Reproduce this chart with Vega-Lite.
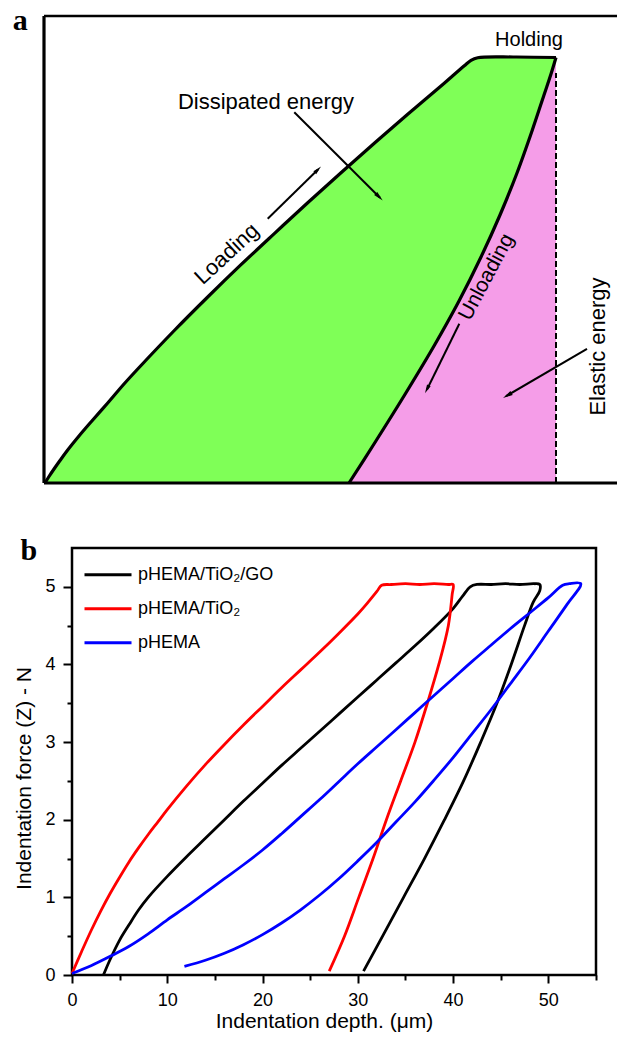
{
  "$schema": "https://vega.github.io/schema/vega-lite/v6.json",
  "padding": {"left": 12, "top": 5, "right": 0, "bottom": 0},
  "config": {"font": "Liberation Sans", "axis": {"titleFontWeight": "normal", "titleColor": "black", "labelColor": "black"}},
  "bounds": "flush",
  "spacing": 65,
  "datasets": {
    "aLoad": [
      {"x": 1, "y": 0}, {"x": 5, "y": 6.5}, {"x": 10, "y": 14}, {"x": 16, "y": 22.5}, {"x": 23.7, "y": 33},
      {"x": 35, "y": 47}, {"x": 47, "y": 61}, {"x": 63.7, "y": 80}, {"x": 80, "y": 99},
      {"x": 97, "y": 117.5}, {"x": 130.3, "y": 152.5}, {"x": 163.7, "y": 186}, {"x": 197, "y": 218.3},
      {"x": 230.3, "y": 249.4}, {"x": 263.7, "y": 280.2}, {"x": 297, "y": 310.2}, {"x": 330.3, "y": 339.7},
      {"x": 363.7, "y": 368.7}, {"x": 397, "y": 397}, {"x": 420.3, "y": 417.3}, {"x": 427, "y": 422.7},
      {"x": 433.7, "y": 425.3}, {"x": 470, "y": 426}, {"x": 512, "y": 425.5}
    ],
    "aUnload": [
      {"x": 305, "y": 0}, {"x": 330, "y": 39}, {"x": 360, "y": 87}, {"x": 390, "y": 137}, {"x": 415, "y": 182},
      {"x": 437, "y": 226}, {"x": 456, "y": 268}, {"x": 473, "y": 310}, {"x": 488, "y": 352},
      {"x": 500, "y": 388}, {"x": 507, "y": 409}, {"x": 512, "y": 425.5}
    ],
    "curves": [
      {"s": "pHEMA/TiO₂/GO", "i": 0, "x": 3.3, "y": 0}, {"s": "pHEMA/TiO₂/GO", "i": 1, "x": 4, "y": 0.2},
      {"s": "pHEMA/TiO₂/GO", "i": 2, "x": 5, "y": 0.45}, {"s": "pHEMA/TiO₂/GO", "i": 3, "x": 6, "y": 0.65},
      {"s": "pHEMA/TiO₂/GO", "i": 4, "x": 7, "y": 0.84}, {"s": "pHEMA/TiO₂/GO", "i": 5, "x": 8, "y": 1.0},
      {"s": "pHEMA/TiO₂/GO", "i": 6, "x": 10, "y": 1.27}, {"s": "pHEMA/TiO₂/GO", "i": 7, "x": 12, "y": 1.52},
      {"s": "pHEMA/TiO₂/GO", "i": 8, "x": 14, "y": 1.76}, {"s": "pHEMA/TiO₂/GO", "i": 9, "x": 16, "y": 2.0},
      {"s": "pHEMA/TiO₂/GO", "i": 10, "x": 18, "y": 2.24}, {"s": "pHEMA/TiO₂/GO", "i": 11, "x": 20, "y": 2.47},
      {"s": "pHEMA/TiO₂/GO", "i": 12, "x": 22, "y": 2.7}, {"s": "pHEMA/TiO₂/GO", "i": 13, "x": 24, "y": 2.92},
      {"s": "pHEMA/TiO₂/GO", "i": 14, "x": 26, "y": 3.14}, {"s": "pHEMA/TiO₂/GO", "i": 15, "x": 28, "y": 3.36},
      {"s": "pHEMA/TiO₂/GO", "i": 16, "x": 30, "y": 3.58}, {"s": "pHEMA/TiO₂/GO", "i": 17, "x": 32, "y": 3.8},
      {"s": "pHEMA/TiO₂/GO", "i": 18, "x": 34, "y": 4.02}, {"s": "pHEMA/TiO₂/GO", "i": 19, "x": 36, "y": 4.24},
      {"s": "pHEMA/TiO₂/GO", "i": 20, "x": 38, "y": 4.47}, {"s": "pHEMA/TiO₂/GO", "i": 21, "x": 40, "y": 4.72},
      {"s": "pHEMA/TiO₂/GO", "i": 22, "x": 41, "y": 4.88}, {"s": "pHEMA/TiO₂/GO", "i": 23, "x": 41.8, "y": 5.0},
      {"s": "pHEMA/TiO₂/GO", "i": 24, "x": 42.5, "y": 5.03}, {"s": "pHEMA/TiO₂/GO", "i": 25, "x": 44, "y": 5.03},
      {"s": "pHEMA/TiO₂/GO", "i": 26, "x": 45.5, "y": 5.04}, {"s": "pHEMA/TiO₂/GO", "i": 27, "x": 47, "y": 5.03},
      {"s": "pHEMA/TiO₂/GO", "i": 28, "x": 48.5, "y": 5.04}, {"s": "pHEMA/TiO₂/GO", "i": 29, "x": 49.1, "y": 5.03},
      {"s": "pHEMA/TiO₂/GO", "i": 30, "x": 49.1, "y": 4.95}, {"s": "pHEMA/TiO₂/GO", "i": 31, "x": 48.4, "y": 4.8},
      {"s": "pHEMA/TiO₂/GO", "i": 32, "x": 47.5, "y": 4.5}, {"s": "pHEMA/TiO₂/GO", "i": 33, "x": 46.1, "y": 4.0},
      {"s": "pHEMA/TiO₂/GO", "i": 34, "x": 44.6, "y": 3.5}, {"s": "pHEMA/TiO₂/GO", "i": 35, "x": 42.9, "y": 3.0},
      {"s": "pHEMA/TiO₂/GO", "i": 36, "x": 41.1, "y": 2.5}, {"s": "pHEMA/TiO₂/GO", "i": 37, "x": 39.1, "y": 2.0},
      {"s": "pHEMA/TiO₂/GO", "i": 38, "x": 37.0, "y": 1.5}, {"s": "pHEMA/TiO₂/GO", "i": 39, "x": 34.8, "y": 1.0},
      {"s": "pHEMA/TiO₂/GO", "i": 40, "x": 32.6, "y": 0.5}, {"s": "pHEMA/TiO₂/GO", "i": 41, "x": 30.6, "y": 0.05},

      {"s": "pHEMA/TiO₂", "i": 0, "x": 0, "y": 0.02}, {"s": "pHEMA/TiO₂", "i": 1, "x": 1, "y": 0.3},
      {"s": "pHEMA/TiO₂", "i": 2, "x": 2, "y": 0.57}, {"s": "pHEMA/TiO₂", "i": 3, "x": 3, "y": 0.82},
      {"s": "pHEMA/TiO₂", "i": 4, "x": 4, "y": 1.05}, {"s": "pHEMA/TiO₂", "i": 5, "x": 5, "y": 1.26},
      {"s": "pHEMA/TiO₂", "i": 6, "x": 6, "y": 1.46}, {"s": "pHEMA/TiO₂", "i": 7, "x": 7, "y": 1.64},
      {"s": "pHEMA/TiO₂", "i": 8, "x": 8, "y": 1.81}, {"s": "pHEMA/TiO₂", "i": 9, "x": 9, "y": 1.97},
      {"s": "pHEMA/TiO₂", "i": 10, "x": 10, "y": 2.13}, {"s": "pHEMA/TiO₂", "i": 11, "x": 12, "y": 2.43},
      {"s": "pHEMA/TiO₂", "i": 12, "x": 14, "y": 2.71}, {"s": "pHEMA/TiO₂", "i": 13, "x": 16, "y": 2.97},
      {"s": "pHEMA/TiO₂", "i": 14, "x": 18, "y": 3.22}, {"s": "pHEMA/TiO₂", "i": 15, "x": 20, "y": 3.46},
      {"s": "pHEMA/TiO₂", "i": 16, "x": 22, "y": 3.7}, {"s": "pHEMA/TiO₂", "i": 17, "x": 24, "y": 3.93},
      {"s": "pHEMA/TiO₂", "i": 18, "x": 26, "y": 4.16}, {"s": "pHEMA/TiO₂", "i": 19, "x": 28, "y": 4.4},
      {"s": "pHEMA/TiO₂", "i": 20, "x": 30, "y": 4.65}, {"s": "pHEMA/TiO₂", "i": 21, "x": 31, "y": 4.79},
      {"s": "pHEMA/TiO₂", "i": 22, "x": 32, "y": 4.94}, {"s": "pHEMA/TiO₂", "i": 23, "x": 32.5, "y": 5.02},
      {"s": "pHEMA/TiO₂", "i": 24, "x": 33.5, "y": 5.03}, {"s": "pHEMA/TiO₂", "i": 25, "x": 35, "y": 5.04},
      {"s": "pHEMA/TiO₂", "i": 26, "x": 36.5, "y": 5.03}, {"s": "pHEMA/TiO₂", "i": 27, "x": 38, "y": 5.04},
      {"s": "pHEMA/TiO₂", "i": 28, "x": 39.5, "y": 5.03}, {"s": "pHEMA/TiO₂", "i": 29, "x": 40, "y": 5.03},
      {"s": "pHEMA/TiO₂", "i": 30, "x": 39.9, "y": 4.9}, {"s": "pHEMA/TiO₂", "i": 31, "x": 39.5, "y": 4.5},
      {"s": "pHEMA/TiO₂", "i": 32, "x": 38.5, "y": 4.0}, {"s": "pHEMA/TiO₂", "i": 33, "x": 37.3, "y": 3.5},
      {"s": "pHEMA/TiO₂", "i": 34, "x": 36.0, "y": 3.0}, {"s": "pHEMA/TiO₂", "i": 35, "x": 34.5, "y": 2.5},
      {"s": "pHEMA/TiO₂", "i": 36, "x": 33.0, "y": 2.0}, {"s": "pHEMA/TiO₂", "i": 37, "x": 31.6, "y": 1.5},
      {"s": "pHEMA/TiO₂", "i": 38, "x": 30.1, "y": 1.0}, {"s": "pHEMA/TiO₂", "i": 39, "x": 28.6, "y": 0.5},
      {"s": "pHEMA/TiO₂", "i": 40, "x": 27.0, "y": 0.05},

      {"s": "pHEMA", "i": 0, "x": 0, "y": 0.02}, {"s": "pHEMA", "i": 1, "x": 2, "y": 0.12},
      {"s": "pHEMA", "i": 2, "x": 4, "y": 0.24}, {"s": "pHEMA", "i": 3, "x": 6, "y": 0.37},
      {"s": "pHEMA", "i": 4, "x": 8, "y": 0.53}, {"s": "pHEMA", "i": 5, "x": 10, "y": 0.71},
      {"s": "pHEMA", "i": 6, "x": 12, "y": 0.88}, {"s": "pHEMA", "i": 7, "x": 14, "y": 1.06},
      {"s": "pHEMA", "i": 8, "x": 16, "y": 1.24}, {"s": "pHEMA", "i": 9, "x": 18, "y": 1.42},
      {"s": "pHEMA", "i": 10, "x": 20, "y": 1.61}, {"s": "pHEMA", "i": 11, "x": 22, "y": 1.82},
      {"s": "pHEMA", "i": 12, "x": 24, "y": 2.04}, {"s": "pHEMA", "i": 13, "x": 26, "y": 2.26},
      {"s": "pHEMA", "i": 14, "x": 28, "y": 2.49}, {"s": "pHEMA", "i": 15, "x": 30, "y": 2.72},
      {"s": "pHEMA", "i": 16, "x": 32, "y": 2.94}, {"s": "pHEMA", "i": 17, "x": 34, "y": 3.16},
      {"s": "pHEMA", "i": 18, "x": 36, "y": 3.38}, {"s": "pHEMA", "i": 19, "x": 38, "y": 3.6},
      {"s": "pHEMA", "i": 20, "x": 40, "y": 3.82}, {"s": "pHEMA", "i": 21, "x": 42, "y": 4.04},
      {"s": "pHEMA", "i": 22, "x": 44, "y": 4.25}, {"s": "pHEMA", "i": 23, "x": 46, "y": 4.46},
      {"s": "pHEMA", "i": 24, "x": 48, "y": 4.66}, {"s": "pHEMA", "i": 25, "x": 50, "y": 4.86},
      {"s": "pHEMA", "i": 26, "x": 51.5, "y": 5.02}, {"s": "pHEMA", "i": 27, "x": 52.2, "y": 5.04},
      {"s": "pHEMA", "i": 28, "x": 53.4, "y": 5.04}, {"s": "pHEMA", "i": 29, "x": 52, "y": 4.78},
      {"s": "pHEMA", "i": 30, "x": 50, "y": 4.43}, {"s": "pHEMA", "i": 31, "x": 48, "y": 4.08},
      {"s": "pHEMA", "i": 32, "x": 46, "y": 3.75}, {"s": "pHEMA", "i": 33, "x": 44, "y": 3.42},
      {"s": "pHEMA", "i": 34, "x": 42, "y": 3.11}, {"s": "pHEMA", "i": 35, "x": 40, "y": 2.8},
      {"s": "pHEMA", "i": 36, "x": 38, "y": 2.51}, {"s": "pHEMA", "i": 37, "x": 36, "y": 2.23},
      {"s": "pHEMA", "i": 38, "x": 34, "y": 1.97}, {"s": "pHEMA", "i": 39, "x": 32, "y": 1.71},
      {"s": "pHEMA", "i": 40, "x": 30, "y": 1.47}, {"s": "pHEMA", "i": 41, "x": 28, "y": 1.24},
      {"s": "pHEMA", "i": 42, "x": 26, "y": 1.03}, {"s": "pHEMA", "i": 43, "x": 24, "y": 0.84},
      {"s": "pHEMA", "i": 44, "x": 22, "y": 0.67}, {"s": "pHEMA", "i": 45, "x": 20, "y": 0.52},
      {"s": "pHEMA", "i": 46, "x": 18, "y": 0.39}, {"s": "pHEMA", "i": 47, "x": 16, "y": 0.28},
      {"s": "pHEMA", "i": 48, "x": 14, "y": 0.19}, {"s": "pHEMA", "i": 49, "x": 11.8, "y": 0.11}
    ]
  },
  "vconcat": [
    {
      "width": 546,
      "height": 467,
      "view": {"stroke": null},
      "layer": [
        {
          "data": {"name": "aLoad"},
          "mark": {"type": "area", "color": "#7FFF57", "opacity": 1, "interpolate": "catmull-rom"},
          "encoding": {
            "x": {"field": "x", "type": "quantitative", "scale": {"domain": [28, 574], "nice": false, "zero": false},
                  "axis": {"title": "Indentation depth. (μm)", "domain": false, "ticks": false, "labels": false, "grid": false,
                           "titleFontSize": 22, "titleX": 286, "titleY": 31.5, "titleBaseline": "alphabetic", "titleAlign": "center", "titleAnchor": null}},
            "y": {"field": "y", "type": "quantitative", "scale": {"domain": [0, 467], "nice": false, "zero": false},
                  "axis": {"title": "Indentation force (Z) - N", "domain": false, "ticks": false, "labels": false, "grid": false,
                           "titleFontSize": 22, "titleX": -41, "titleY": 234.5, "titleAngle": -90, "titleBaseline": "alphabetic", "titleAlign": "center", "titleAnchor": null}},
            "y2": {"datum": 0}
          }
        },
        {
          "data": {"name": "aUnload"},
          "mark": {"type": "area", "color": "#F59DE8", "opacity": 1, "interpolate": "catmull-rom"},
          "encoding": {
            "x": {"field": "x", "type": "quantitative", "axis": null},
            "y": {"field": "y", "type": "quantitative", "axis": null},
            "y2": {"datum": 0}
          }
        },
        {
          "data": {"values": [{"x": 512, "y": 0, "y2": 410}]},
          "mark": {"type": "rule", "color": "black", "strokeWidth": 2, "strokeDash": [6, 3]},
          "encoding": {
            "x": {"field": "x", "type": "quantitative", "axis": null},
            "y": {"field": "y", "type": "quantitative", "axis": null},
            "y2": {"field": "y2"}
          }
        },
        {
          "data": {"name": "aLoad"},
          "mark": {"type": "line", "color": "black", "strokeWidth": 3.2, "strokeJoin": "round", "interpolate": "catmull-rom"},
          "encoding": {
            "x": {"field": "x", "type": "quantitative", "axis": null},
            "y": {"field": "y", "type": "quantitative", "axis": null}
          }
        },
        {
          "data": {"name": "aUnload"},
          "mark": {"type": "line", "color": "black", "strokeWidth": 3.2, "strokeJoin": "round", "interpolate": "catmull-rom"},
          "encoding": {
            "x": {"field": "x", "type": "quantitative", "axis": null},
            "y": {"field": "y", "type": "quantitative", "axis": null}
          }
        },
        {
          "data": {"values": [{"x": 0, "y": 0, "x2": 0, "y2": 467}, {"x": 0, "y": 0, "x2": 574, "y2": 0}]},
          "mark": {"type": "rule", "color": "black", "strokeWidth": 3.2},
          "encoding": {
            "x": {"field": "x", "type": "quantitative", "axis": null},
            "y": {"field": "y", "type": "quantitative", "axis": null},
            "x2": {"field": "x2"},
            "y2": {"field": "y2"}
          }
        },
        {
          "data": {"values": [{"x": 0, "y": 467, "x2": 574, "y2": 467}]},
          "mark": {"type": "rule", "color": "black", "strokeWidth": 2.3},
          "encoding": {
            "x": {"field": "x", "type": "quantitative", "axis": null},
            "y": {"field": "y", "type": "quantitative", "axis": null},
            "x2": {"field": "x2"},
            "y2": {"field": "y2"}
          }
        },
        {
          "data": {"values": [
            {"x": 250.3, "y": 370.8, "x2": 336, "y2": 285.2},
            {"x": 223.7, "y": 264.2, "x2": 274, "y2": 313.5},
            {"x": 415.3, "y": 159.2, "x2": 383, "y2": 93.5},
            {"x": 543, "y": 134.2, "x2": 462, "y2": 86.8}
          ]},
          "mark": {"type": "rule", "color": "black", "strokeWidth": 2},
          "encoding": {
            "x": {"field": "x", "type": "quantitative", "axis": null},
            "y": {"field": "y", "type": "quantitative", "axis": null},
            "x2": {"field": "x2"},
            "y2": {"field": "y2"}
          }
        },
        {
          "data": {"values": [{"x": 338.7, "y": 282.5}]},
          "mark": {"type": "point", "shape": "M0,0L0.5,2.2L-0.5,2.2Z", "size": 81, "angle": 135, "filled": true, "color": "black", "opacity": 1},
          "encoding": {"x": {"field": "x", "type": "quantitative", "axis": null}, "y": {"field": "y", "type": "quantitative", "axis": null}}
        },
        {
          "data": {"values": [{"x": 277, "y": 316.5}]},
          "mark": {"type": "point", "shape": "M0,0L0.5,2.2L-0.5,2.2Z", "size": 64, "angle": 45, "filled": true, "color": "black", "opacity": 1},
          "encoding": {"x": {"field": "x", "type": "quantitative", "axis": null}, "y": {"field": "y", "type": "quantitative", "axis": null}}
        },
        {
          "data": {"values": [{"x": 381, "y": 89.8}]},
          "mark": {"type": "point", "shape": "M0,0L0.5,2.2L-0.5,2.2Z", "size": 64, "angle": 206, "filled": true, "color": "black", "opacity": 1},
          "encoding": {"x": {"field": "x", "type": "quantitative", "axis": null}, "y": {"field": "y", "type": "quantitative", "axis": null}}
        },
        {
          "data": {"values": [{"x": 459, "y": 85}]},
          "mark": {"type": "point", "shape": "M0,0L0.5,2.2L-0.5,2.2Z", "size": 81, "angle": 240, "filled": true, "color": "black", "opacity": 1},
          "encoding": {"x": {"field": "x", "type": "quantitative", "axis": null}, "y": {"field": "y", "type": "quantitative", "axis": null}}
        },
        {
          "data": {"values": [{"x": 485, "y": 437.5, "t": "Holding"}]},
          "mark": {"type": "text", "fontSize": 20, "align": "center", "baseline": "alphabetic", "color": "black"},
          "encoding": {"x": {"field": "x", "type": "quantitative", "axis": null}, "y": {"field": "y", "type": "quantitative", "axis": null}, "text": {"field": "t"}}
        },
        {
          "data": {"values": [{"x": 222, "y": 374.2, "t": "Dissipated energy"}]},
          "mark": {"type": "text", "fontSize": 22, "align": "center", "baseline": "alphabetic", "color": "black"},
          "encoding": {"x": {"field": "x", "type": "quantitative", "axis": null}, "y": {"field": "y", "type": "quantitative", "axis": null}, "text": {"field": "t"}}
        },
        {
          "data": {"values": [{"x": 182.7, "y": 229.2, "t": "Loading"}]},
          "mark": {"type": "text", "fontSize": 22, "align": "center", "baseline": "middle", "angle": -43, "color": "black"},
          "encoding": {"x": {"field": "x", "type": "quantitative", "axis": null}, "y": {"field": "y", "type": "quantitative", "axis": null}, "text": {"field": "t"}}
        },
        {
          "data": {"values": [{"x": 442.7, "y": 205.8, "t": "Unloading"}]},
          "mark": {"type": "text", "fontSize": 21, "align": "center", "baseline": "middle", "angle": -62, "color": "black"},
          "encoding": {"x": {"field": "x", "type": "quantitative", "axis": null}, "y": {"field": "y", "type": "quantitative", "axis": null}, "text": {"field": "t"}}
        },
        {
          "data": {"values": [{"x": 561, "y": 136.5, "t": "Elastic energy"}]},
          "mark": {"type": "text", "fontSize": 22, "align": "center", "baseline": "alphabetic", "angle": -90, "color": "black"},
          "encoding": {"x": {"field": "x", "type": "quantitative", "axis": null}, "y": {"field": "y", "type": "quantitative", "axis": null}, "text": {"field": "t"}}
        },
        {
          "data": {"values": [{"x": -31.3, "y": 453.2, "t": "a"}]},
          "mark": {"type": "text", "fontSize": 30, "font": "Liberation Serif", "fontWeight": "bold", "align": "left", "baseline": "alphabetic", "color": "black"},
          "encoding": {"x": {"field": "x", "type": "quantitative", "axis": null}, "y": {"field": "y", "type": "quantitative", "axis": null}, "text": {"field": "t"}}
        }
      ]
    },
    {
      "width": 524,
      "height": 427,
      "view": {"stroke": "black", "strokeWidth": 2.5},
      "resolve": {"axis": {"x": "independent", "y": "independent"}},
      "layer": [
        {
          "data": {"name": "curves"},
          "mark": {"type": "line", "strokeWidth": 2.8, "strokeJoin": "round", "interpolate": "catmull-rom"},
          "encoding": {
            "x": {"field": "x", "type": "quantitative", "scale": {"domain": [0, 55], "nice": false, "zero": false},
                  "axis": {"orient": "bottom", "values": [0, 10, 20, 30, 40, 50], "title": "Indentation depth. (μm)", "titleFontSize": 21,
                           "titleX": 252, "titleY": 52, "titleBaseline": "alphabetic", "titleAlign": "center", "titleAnchor": null,
                           "labelFontSize": 18, "labelPadding": 8, "labelFlush": false, "labelOverlap": false,
                           "tickSize": 8, "tickWidth": 2, "tickColor": "black", "domain": false, "grid": false}},
            "y": {"field": "y", "type": "quantitative", "scale": {"domain": [0, 5.5], "nice": false, "zero": false},
                  "axis": {"orient": "left", "values": [0, 1, 2, 3, 4, 5], "title": "Indentation force (Z) - N", "titleFontSize": 21,
                           "titleX": -41.5, "titleY": 230, "titleAngle": -90, "titleBaseline": "alphabetic", "titleAlign": "center", "titleAnchor": null,
                           "labelFontSize": 18, "labelPadding": 8, "labelFlush": false, "labelOverlap": false,
                           "tickSize": 9, "tickWidth": 2, "tickColor": "black", "domain": false, "grid": false}},
            "color": {"field": "s", "type": "nominal",
                      "scale": {"domain": ["pHEMA/TiO₂/GO", "pHEMA/TiO₂", "pHEMA"], "range": ["#000000", "#FF0000", "#0000FF"]},
                      "legend": {"orient": "none", "legendX": 11, "legendY": 533.7, "title": null, "symbolType": "stroke", "symbolSize": 2209,
                                 "symbolStrokeWidth": 3, "labelFontSize": 18, "labelOffset": 5, "rowPadding": -15.2, "labelColor": "black", "padding": 0}},
            "order": {"field": "i", "type": "quantitative"}
          }
        },
        {
          "data": {"values": [{"x": -5.4, "y": 5.344, "t": "b"}]},
          "mark": {"type": "text", "fontSize": 30, "font": "Liberation Serif", "fontWeight": "bold", "align": "left", "baseline": "alphabetic", "color": "black"},
          "encoding": {
            "x": {"field": "x", "type": "quantitative",
                  "axis": {"orient": "bottom", "values": [5, 15, 25, 35, 45, 55], "labels": false, "title": null, "domain": false, "grid": false,
                           "tickSize": 5, "tickWidth": 2, "tickColor": "black"}},
            "y": {"field": "y", "type": "quantitative",
                  "axis": {"orient": "left", "values": [0.5, 1.5, 2.5, 3.5, 4.5], "labels": false, "title": null, "domain": false, "grid": false,
                           "tickSize": 5, "tickWidth": 2, "tickColor": "black"}},
            "text": {"field": "t"}
          }
        }
      ]
    }
  ]
}
